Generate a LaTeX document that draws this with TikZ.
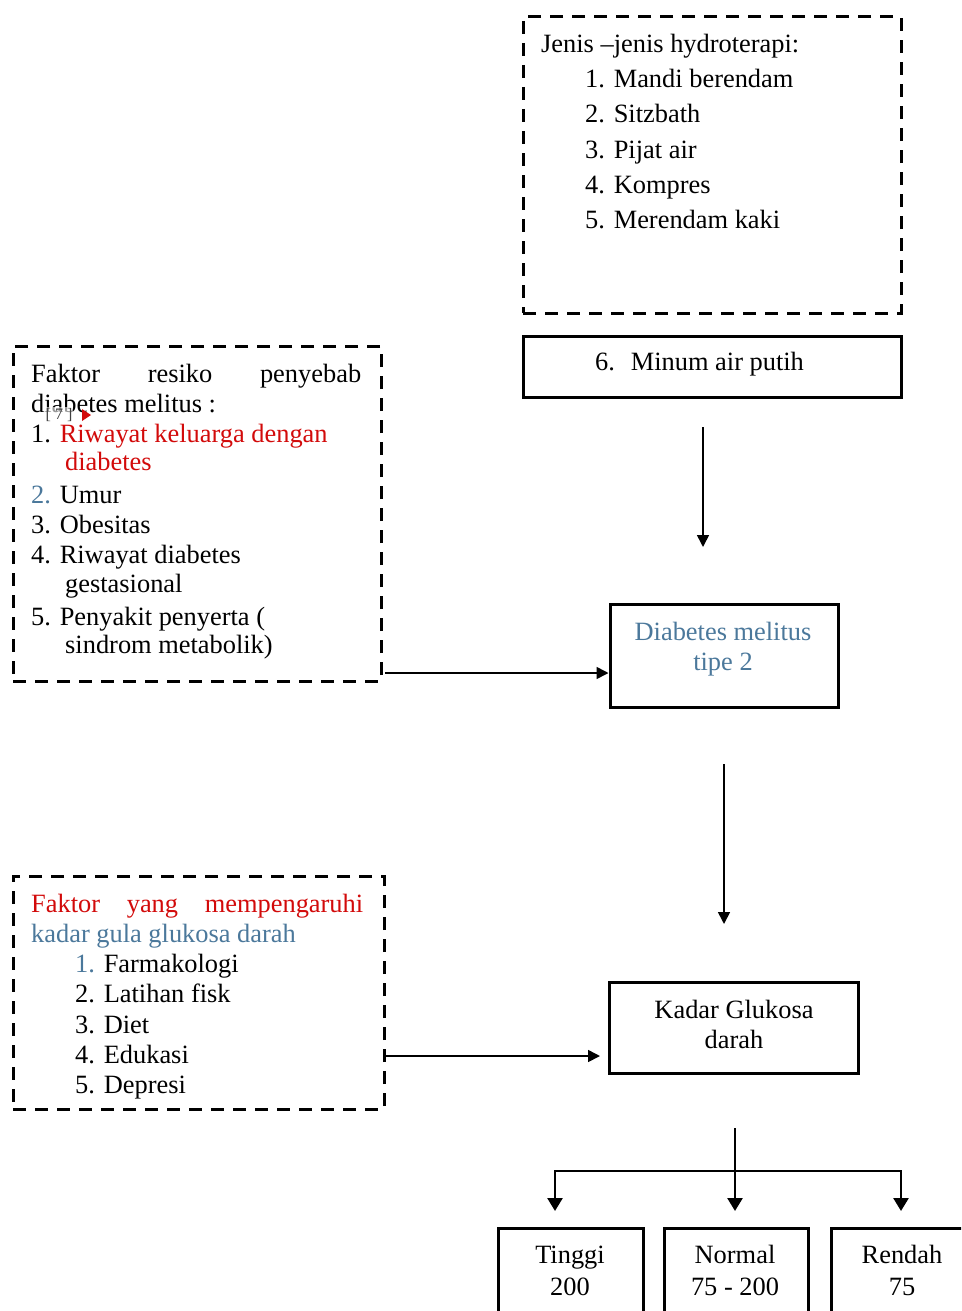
\documentclass[tikz,border=0pt]{standalone}
\usepackage{fontspec}
\setmainfont{Liberation Serif}
\usetikzlibrary{arrows.meta}
\definecolor{myred}{RGB}{210,10,10}
\definecolor{myblue}{RGB}{75,120,155}
\begin{document}
\begin{tikzpicture}[x=1pt,y=-1pt,
 txt/.style={inner sep=0pt, anchor=base west, font=\fontsize{26.4}{30}\selectfont},
 ctxt/.style={inner sep=0pt, anchor=base, font=\fontsize{26.4}{30}\selectfont},
 dbox/.style={draw, line width=3pt, dash pattern=on 13pt off 9pt, inner sep=0pt},
 sbox/.style={draw, line width=3pt, inner sep=0pt},
 arr/.style={line width=1.6pt, -{Triangle[width=12pt,length=12pt]}},
 barr/.style={line width=2.6pt, -{Triangle[width=15pt,length=13pt]}},
 barr2/.style={line width=2.6pt, {Triangle[width=15pt,length=13pt]}-{Triangle[width=15pt,length=13pt]}},
]
\useasboundingbox (0,0) rectangle (961,1311);
\clip (0,0) rectangle (961,1311);

% boxes
\node[dbox, minimum width=378pt, minimum height=296pt] (hydro) at (712,165) {};
\node[sbox, minimum width=378pt, minimum height=61pt] (minum) at (712,366.5) {};
\node[dbox, minimum width=368pt, minimum height=335pt] (box1) at (197,513.5) {};
\node[dbox, minimum width=371pt, minimum height=233pt] (box2) at (198.5,992.5) {};
\node[sbox, minimum width=228pt, minimum height=103pt] (diab) at (724,655.5) {};
\node[sbox, minimum width=249pt, minimum height=91pt] (kadar) at (733.5,1027.5) {};
\node[sbox, minimum width=145pt, minimum height=112pt] (tinggi) at (570.5,1284) {};
\node[sbox, minimum width=144pt, minimum height=112pt] (normal) at (736,1284) {};
\node[sbox, minimum width=169pt, minimum height=112pt] (rendah) at (915.5,1284) {};

% hydro text
\node[txt] (h0) at (541,53) {Jenis –jenis hydroterapi:};
\node[txt] (h1) at (585,88) {1. Mandi berendam};
\node[txt] (h2) at (585,123) {2. Sitzbath};
\node[txt] (h3) at (585,158) {3. Pijat air};
\node[txt] (h4) at (585,193) {4. Kompres};
\node[txt] (h5) at (585,228) {5. Merendam kaki};
\node[txt] (m6) at (595,370) {6.\hspace{0.6em}Minum air putih};

% box1 text
\node[txt] (f0) at (31,382) {\makebox[330pt][s]{Faktor\hfill resiko\hfill penyebab}};
\node[txt] (f1) at (31,412) {diabetes melitus :};
\node[txt] (f2) at (31,442) {1. \textcolor{myred}{Riwayat keluarga dengan}};
\node[txt, text=myred] (f3) at (65,470) {diabetes};
\node[txt] (f4) at (31,503) {\textcolor{myblue}{2.} Umur};
\node[txt] (f5) at (31,533) {3. Obesitas};
\node[txt] (f6) at (31,563) {4. Riwayat diabetes};
\node[txt] (f7) at (65,592) {gestasional};
\node[txt] (f8) at (31,625) {5. Penyakit penyerta (};
\node[txt] (f9) at (65,653) {sindrom metabolik)};
\node[inner sep=1pt, fill=white, fill opacity=0.6, text opacity=1, text=black!75,
      font=\fontsize{16}{16}\selectfont] (cmt) at (59,415) {[ 7 ]};
\fill[myred] (82,409) -- (82,421) -- (91,415) -- cycle;

% box2 text
\node[txt, text=myred] (g0) at (31,912) {\makebox[332pt][s]{Faktor\hfill yang\hfill mempengaruhi}};
\node[txt, text=myblue] (g1) at (31,942) {kadar gula glukosa darah};
\node[txt] (g2) at (75,972) {\textcolor{myblue}{1.} Farmakologi};
\node[txt] (g3) at (75,1002) {2. Latihan fisk};
\node[txt] (g4) at (75,1033) {3. Diet};
\node[txt] (g5) at (75,1063) {4. Edukasi};
\node[txt] (g6) at (75,1093) {5. Depresi};

% centred texts
\node[ctxt, text=myblue] (d1) at (723,640) {Diabetes melitus};
\node[ctxt, text=myblue] (d2) at (723,670) {tipe 2};
\node[ctxt] (k1) at (734,1018) {Kadar Glukosa};
\node[ctxt] (k2) at (734,1048) {darah};
\node[ctxt] (t1) at (570,1263) {Tinggi};
\node[ctxt] (t2) at (570,1295) {200};
\node[ctxt] (n1) at (735,1263) {Normal};
\node[ctxt] (n2) at (735,1295) {75 - 200};
\node[ctxt] (r1) at (902,1263) {Rendah};
\node[ctxt] (r2) at (902,1295) {75};

% connectors
\coordinate (a1s) at (703,427);
\coordinate (a1e) at (703,547);
\draw[arr] (a1s) -- (a1e);
\coordinate (a2s) at (385,673);
\draw[arr] (a2s) -- (a2s -| diab.west);
\coordinate (a3s) at (724,764);
\coordinate (a3e) at (724,924);
\draw[arr] (a3s) -- (a3e);
\coordinate (a4s) at (386,1056);
\coordinate (a4e) at (600,1056);
\draw[arr] (a4s) -- (a4e);
\coordinate (b0) at (735,1128);
\coordinate (b1) at (735,1211);
\coordinate (bl) at (555,1211);
\coordinate (blh) at (555,1171);
\coordinate (brh) at (901,1171);
\coordinate (br) at (901,1211);
\draw[barr] (b0) -- (b1);
\draw[barr2] (bl) -- (blh) -- (brh) -- (br);
\end{tikzpicture}
\end{document}
